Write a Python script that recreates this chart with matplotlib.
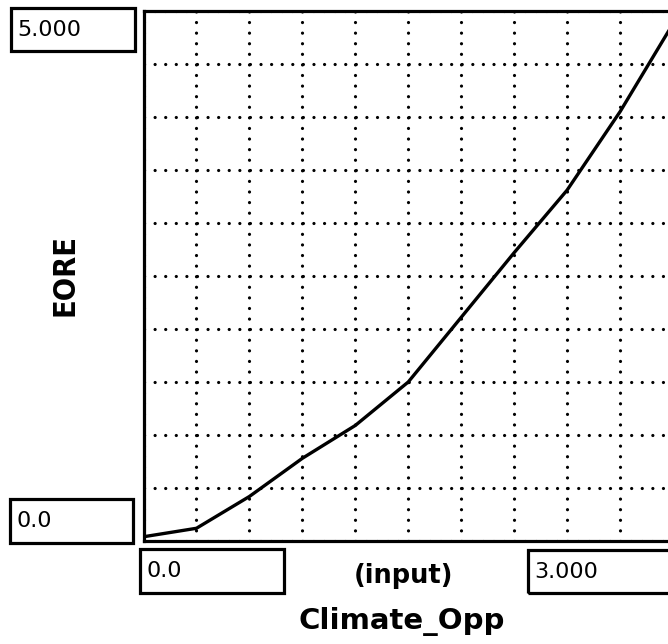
import matplotlib
matplotlib.use("Agg")
import matplotlib.pyplot as plt
from matplotlib.patches import Rectangle

# Graphical function: EORE as a function of Climate_Opp
climate_opp = [0.0, 0.3, 0.6, 0.9, 1.2, 1.5, 1.8, 2.1, 2.4, 2.7, 3.0]
eore = [0.04, 0.12, 0.42, 0.78, 1.09, 1.50, 2.11, 2.72, 3.31, 4.05, 4.88]

x_min, x_max = 0.0, 3.0
y_min, y_max = 0.0, 5.0
x_min_label, x_max_label = "0.0", "3.000"
y_min_label, y_max_label = "0.0", "5.000"
x_name = "Climate_Opp"
y_name = "EORE"
x_note = "(input)"

W, H = 668, 644
DPI = 100
fig = plt.figure(figsize=(W / DPI, H / DPI), dpi=DPI)
fig.patch.set_facecolor("white")


def fx(px):
    return px / W


def fy(py):
    return 1 - py / H


# plot frame (runs slightly past the right edge of the canvas)
left_px, right_px, top_px, bottom_px = 143.5, 673.0, 11.0, 541.0
ax = fig.add_axes([fx(left_px), fy(bottom_px),
                   (right_px - left_px) / W, (bottom_px - top_px) / H])
ax.set_xlim(x_min, x_max)
ax.set_ylim(y_min, y_max)

# dotted grid, 10 x 10 cells, five dots per cell
grid_lw = 2.3                                   # points
cell_pt = (right_px - left_px) / 10 * 72 / DPI  # cell size in points
period = cell_pt / 5 / grid_lw                  # dot period in line widths
ax.set_xticks([x_min + (x_max - x_min) * i / 10 for i in range(11)])
ax.set_yticks([y_min + (y_max - y_min) * i / 10 for i in range(11)])
ax.tick_params(length=0, labelbottom=False, labelleft=False)
ax.grid(True, color="black", linewidth=grid_lw,
        linestyle=(0, (0.02, period - 0.02)))
for gl in ax.xaxis.get_gridlines() + ax.yaxis.get_gridlines():
    gl.set_dash_capstyle("round")
ax.set_axisbelow(True)

for sp in ax.spines.values():
    sp.set_linewidth(2.3)
    sp.set_color("black")

ax.plot(climate_opp, eore, color="black", linewidth=2.4,
        solid_capstyle="round", solid_joinstyle="round", zorder=3)


def box(x0, y0, x1, y1, text, size=16):
    fig.patches.append(Rectangle((fx(x0), fy(y1)), fx(x1) - fx(x0), fy(y0) - fy(y1),
                                 transform=fig.transFigure, fill=False,
                                 edgecolor="black", linewidth=2.3))
    fig.text(fx(x0 + 6), fy((y0 + y1) / 2), text, ha="left", va="center",
             fontsize=size, family="DejaVu Sans", color="black")


# range boxes
box(11, 8, 135, 51, y_max_label)
box(10, 499, 133, 543, y_min_label)
box(140, 549, 284, 593, x_min_label)
box(528, 550, 673, 593, x_max_label)

# axis names
fig.text(fx(403), fy(576), x_note, ha="center", va="center",
         fontsize=18.5, fontweight="bold", family="DejaVu Sans")
fig.text(fx(402), fy(621), x_name, ha="center", va="center",
         fontsize=21, fontweight="bold", family="DejaVu Sans")
fig.text(fx(65.5), fy(275), y_name, ha="center", va="center", rotation=90,
         fontsize=22, fontweight="bold", family="DejaVu Sans",
         fontstretch="condensed")

fig.savefig("out.png", dpi=DPI, facecolor="white")
